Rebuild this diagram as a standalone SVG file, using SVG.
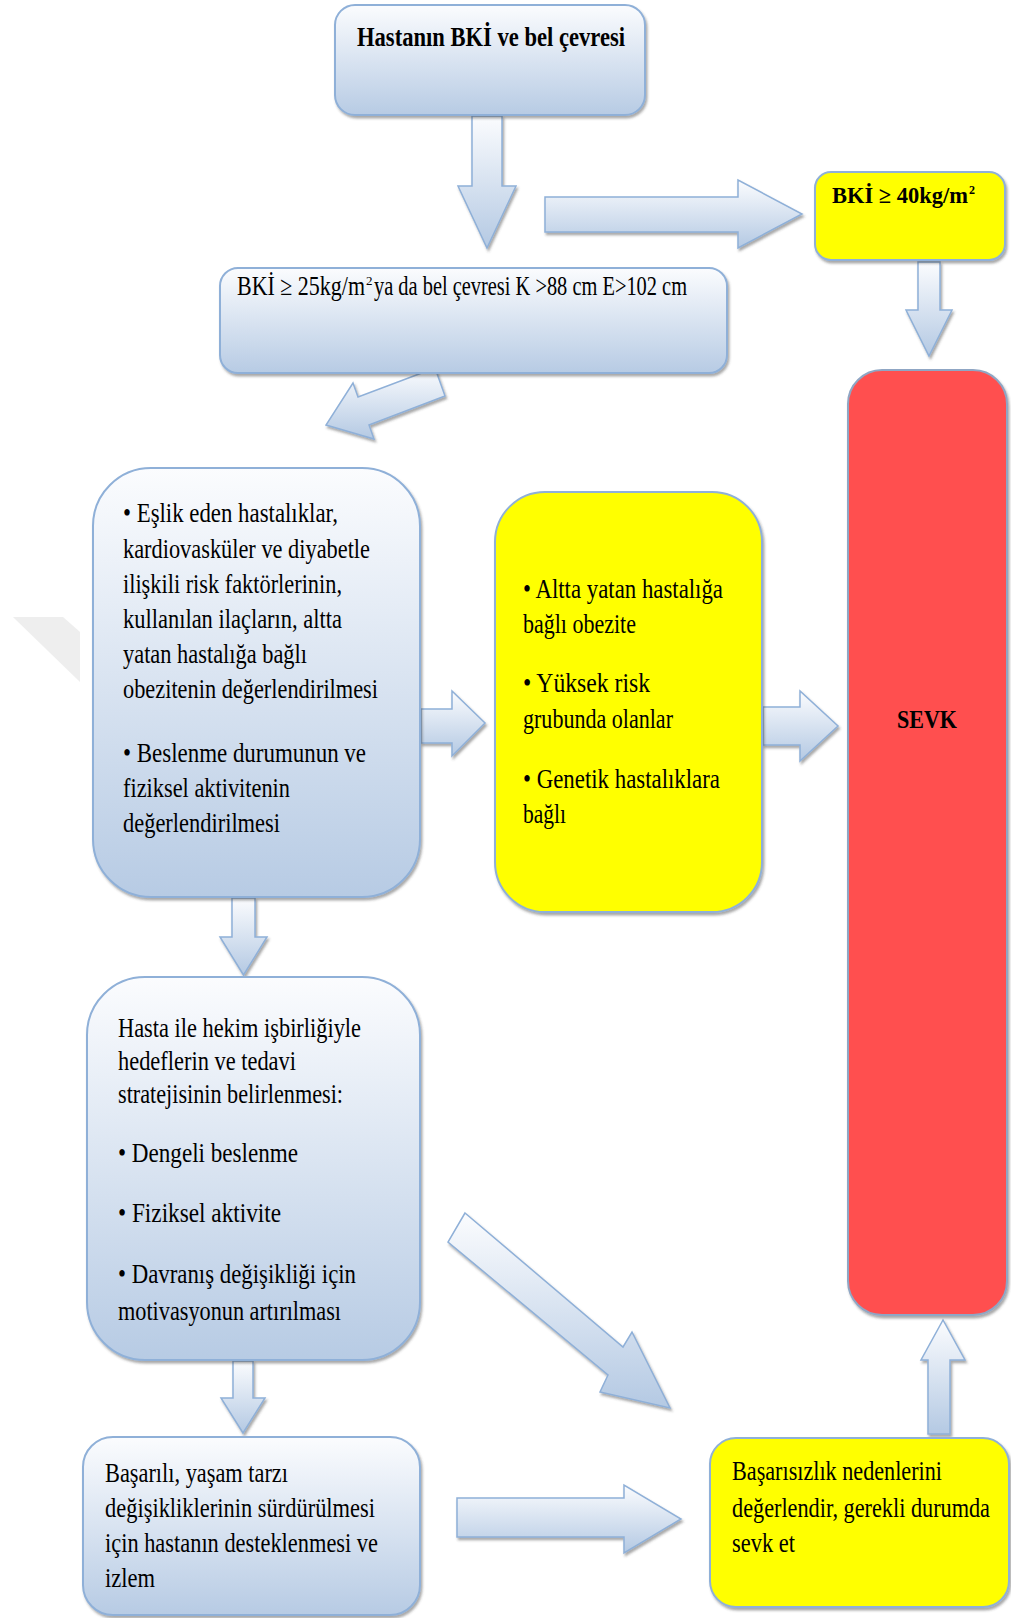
<svg xmlns="http://www.w3.org/2000/svg" width="1011" height="1618" viewBox="0 0 1011 1618">
<defs>
<linearGradient id="gBlue" x1="0" y1="0" x2="0" y2="1">
<stop offset="0" stop-color="#fbfcfe"/>
<stop offset="1" stop-color="#b7cbe4"/>
</linearGradient>
<linearGradient id="gArrow" x1="0" y1="0" x2="0" y2="1">
<stop offset="0" stop-color="#fbfcfe"/>
<stop offset="1" stop-color="#b4c9e3"/>
</linearGradient>
<filter id="sh" x="-10%" y="-10%" width="120%" height="120%">
<feDropShadow dx="1.5" dy="2.5" stdDeviation="1.2" flood-color="#404040" flood-opacity="0.45"/>
</filter>
</defs>
<style>
.box{fill:url(#gBlue);stroke:#8fb0d8;stroke-width:2;filter:url(#sh)}
.ybox{fill:#ffff00;stroke:#8fb0d8;stroke-width:2;filter:url(#sh)}
.rbox{fill:#ff5050;stroke:#8fa6c4;stroke-width:2;filter:url(#sh)}
.arr{fill:url(#gArrow);stroke:#8fb0d8;stroke-width:1.5;filter:url(#sh)}
.t{font-family:"Liberation Serif","Times New Roman",serif;fill:#000}
.b{font-weight:bold}
</style>
<rect width="1011" height="1618" fill="#ffffff"/>
<polygon points="13,617 63,617 80,632 80,682" fill="#eeeeee"/>

<g id="connectors">
<polygon class="arr" points="472,116 502,116 502,186 516,186 487,248 458,186 472,186"/>
<polygon class="arr" points="545,197 738,197 738,180 802,214 738,248 738,232 545,232"/>
<polygon class="arr" points="918,262 940,262 940,310 952,310 929,356 906,310 918,310"/>
<polygon class="arr" points="435,368 358,397 353,383 326,425 374,439 369,425 445,396"/>
<polygon class="arr" points="421,709 452,709 452,691 485,723 452,756 452,743 421,743"/>
<polygon class="arr" points="763,707 800,707 800,691 838,726 800,761 800,745 763,745"/>
<polygon class="arr" points="232,898 255,898 255,937 267,937 243.5,975 220,937 232,937"/>
<polygon class="arr" points="233,1361 253,1361 253,1398 265,1398 243,1433 221,1398 233,1398"/>
<polygon class="arr" points="465,1213 623,1347 632,1332 670,1408 600,1392 608,1375 448,1242"/>
<polygon class="arr" points="457,1498 624,1498 624,1485 681,1519 624,1553 624,1537 457,1537"/>
<polygon class="arr" points="928,1434 950,1434 950,1360 965,1360 943,1320 921,1360 928,1360"/>
</g>

<g id="node-top">
<rect class="box" x="335" y="5" width="310" height="110" rx="20"/>
<text class="t b" x="357" y="46" font-size="28" textLength="268" lengthAdjust="spacingAndGlyphs">Hastanın BKİ ve bel çevresi</text>
</g>

<g id="node-bki40">
<rect class="ybox" x="815" y="172" width="190" height="88" rx="16"/>
<text class="t b" x="832" y="203" font-size="23"><tspan textLength="136" lengthAdjust="spacingAndGlyphs">BKİ ≥ 40kg/m</tspan><tspan x="969" y="194" font-size="12">2</tspan></text>
</g>

<g id="node-bki25">
<rect class="box" x="220" y="268" width="507" height="105" rx="18"/>
<text class="t" x="237" y="295" font-size="27"><tspan textLength="128" lengthAdjust="spacingAndGlyphs">BKİ ≥ 25kg/m</tspan><tspan x="366" y="285" font-size="13">2</tspan><tspan x="374" y="295" textLength="313" lengthAdjust="spacingAndGlyphs">ya da bel çevresi K &gt;88 cm E&gt;102 cm</tspan></text>
</g>

<g id="node-evaluate" font-size="27">
<rect class="box" x="93" y="468" width="327" height="429" rx="58"/>
<text class="t" x="123" y="522" textLength="215" lengthAdjust="spacingAndGlyphs">• Eşlik eden hastalıklar,</text>
<text class="t" x="123" y="558" textLength="247" lengthAdjust="spacingAndGlyphs">kardiovasküler ve diyabetle</text>
<text class="t" x="123" y="593" textLength="219" lengthAdjust="spacingAndGlyphs">ilişkili risk faktörlerinin,</text>
<text class="t" x="123" y="628" textLength="219" lengthAdjust="spacingAndGlyphs">kullanılan ilaçların, altta</text>
<text class="t" x="123" y="663" textLength="184" lengthAdjust="spacingAndGlyphs">yatan hastalığa bağlı</text>
<text class="t" x="123" y="698" textLength="255" lengthAdjust="spacingAndGlyphs">obezitenin değerlendirilmesi</text>
<text class="t" x="123" y="762" textLength="243" lengthAdjust="spacingAndGlyphs">• Beslenme durumunun ve</text>
<text class="t" x="123" y="797" textLength="167" lengthAdjust="spacingAndGlyphs">fiziksel aktivitenin</text>
<text class="t" x="123" y="832" textLength="157" lengthAdjust="spacingAndGlyphs">değerlendirilmesi</text>
</g>

<g id="node-risk" font-size="27">
<rect class="ybox" x="495" y="492" width="267" height="420" rx="50"/>
<text class="t" x="523" y="598" textLength="200" lengthAdjust="spacingAndGlyphs">• Altta yatan hastalığa</text>
<text class="t" x="523" y="633" textLength="113" lengthAdjust="spacingAndGlyphs">bağlı obezite</text>
<text class="t" x="523" y="692" textLength="127" lengthAdjust="spacingAndGlyphs">• Yüksek risk</text>
<text class="t" x="523" y="728" textLength="150" lengthAdjust="spacingAndGlyphs">grubunda olanlar</text>
<text class="t" x="523" y="788" textLength="197" lengthAdjust="spacingAndGlyphs">• Genetik hastalıklara</text>
<text class="t" x="523" y="823" textLength="43" lengthAdjust="spacingAndGlyphs">bağlı</text>
</g>

<g id="node-sevk">
<rect class="rbox" x="848" y="370" width="159" height="945" rx="34"/>
<text class="t b" x="927" y="728" font-size="25" text-anchor="middle" textLength="60" lengthAdjust="spacingAndGlyphs">SEVK</text>
</g>

<g id="node-strategy" font-size="27">
<rect class="box" x="87" y="977" width="333" height="383" rx="58"/>
<text class="t" x="118" y="1037" textLength="243" lengthAdjust="spacingAndGlyphs">Hasta ile hekim işbirliğiyle</text>
<text class="t" x="118" y="1070" textLength="178" lengthAdjust="spacingAndGlyphs">hedeflerin ve tedavi</text>
<text class="t" x="118" y="1103" textLength="225" lengthAdjust="spacingAndGlyphs">stratejisinin belirlenmesi:</text>
<text class="t" x="118" y="1162" textLength="180" lengthAdjust="spacingAndGlyphs">• Dengeli beslenme</text>
<text class="t" x="118" y="1222" textLength="163" lengthAdjust="spacingAndGlyphs">• Fiziksel aktivite</text>
<text class="t" x="118" y="1283" textLength="238" lengthAdjust="spacingAndGlyphs">• Davranış değişikliği için</text>
<text class="t" x="118" y="1320" textLength="223" lengthAdjust="spacingAndGlyphs">motivasyonun artırılması</text>
</g>

<g id="node-success" font-size="27">
<rect class="box" x="83" y="1437" width="337" height="178" rx="30"/>
<text class="t" x="105" y="1482" textLength="183" lengthAdjust="spacingAndGlyphs">Başarılı, yaşam tarzı</text>
<text class="t" x="105" y="1517" textLength="270" lengthAdjust="spacingAndGlyphs">değişikliklerinin sürdürülmesi</text>
<text class="t" x="105" y="1552" textLength="273" lengthAdjust="spacingAndGlyphs">için hastanın desteklenmesi ve</text>
<text class="t" x="105" y="1587" textLength="50" lengthAdjust="spacingAndGlyphs">izlem</text>
</g>

<g id="node-failure" font-size="27">
<rect class="ybox" x="710" y="1438" width="299" height="169" rx="26"/>
<text class="t" x="732" y="1480" textLength="210" lengthAdjust="spacingAndGlyphs">Başarısızlık nedenlerini</text>
<text class="t" x="732" y="1517" textLength="258" lengthAdjust="spacingAndGlyphs">değerlendir, gerekli durumda</text>
<text class="t" x="732" y="1552" textLength="63" lengthAdjust="spacingAndGlyphs">sevk et</text>
</g>
</svg>
